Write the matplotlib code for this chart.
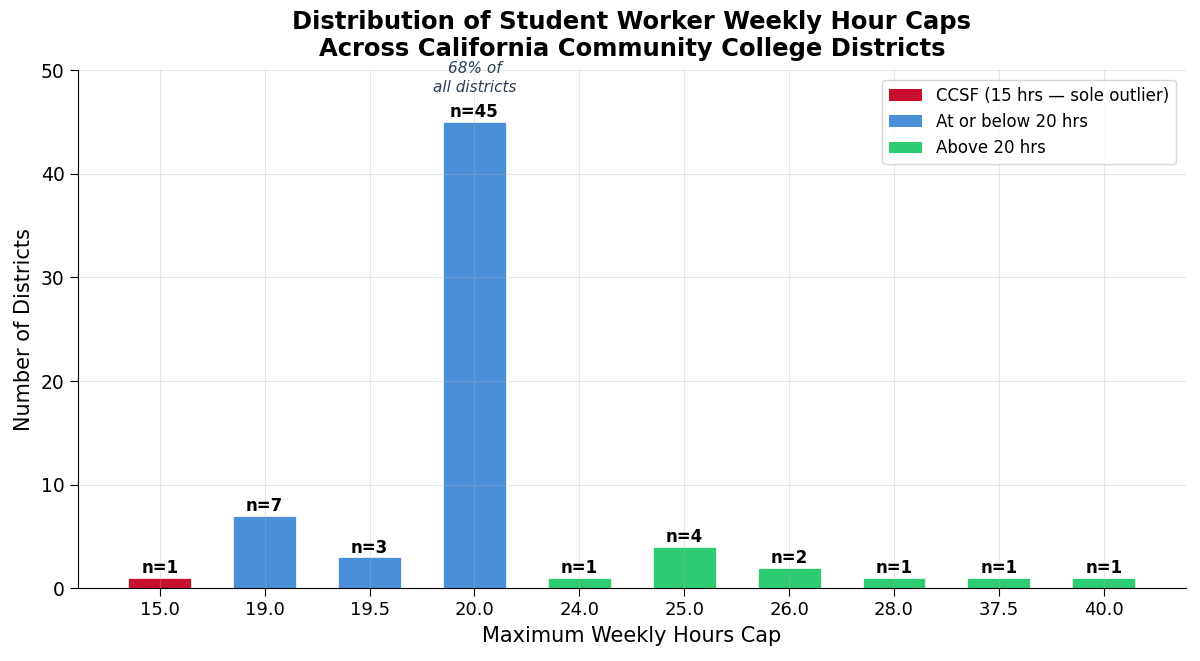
import matplotlib
matplotlib.use("Agg")
import matplotlib.pyplot as plt
from matplotlib.patches import Patch

caps = ["15.0", "19.0", "19.5", "20.0", "24.0", "25.0", "26.0", "28.0", "37.5", "40.0"]
counts = [1, 7, 3, 45, 1, 4, 2, 1, 1, 1]
groups = ["ccsf", "below", "below", "below", "above", "above", "above", "above", "above", "above"]
colors_map = {"ccsf": "#C8102E", "below": "#4A90D9", "above": "#2ECC71"}
legend_labels = ["CCSF (15 hrs — sole outlier)", "At or below 20 hrs", "Above 20 hrs"]

fig, ax = plt.subplots(figsize=(12, 6.61), dpi=100)
x = list(range(len(caps)))
bar_colors = [colors_map[g] for g in groups]
ax.bar(x, counts, width=0.6, color=bar_colors, edgecolor="white", linewidth=0.5, zorder=1)
ax.set_axisbelow(False)
ax.grid(True, alpha=0.3, zorder=2)

for xi, c in zip(x, counts):
    ax.text(xi, c + 0.05, f"n={c}", ha="center", va="bottom", fontsize=12, fontweight="bold")

ax.text(3, 47.6, "68% of\nall districts", ha="center", va="bottom", fontsize=11,
        style="italic", color="#2C3E50", linespacing=1.35)

ax.set_xticks(x)
ax.set_xticklabels(caps, fontsize=13)
ax.tick_params(axis="y", labelsize=13.5, length=6)
ax.tick_params(axis="x", length=6)
ax.set_ylim(0, 50)
ax.set_xlabel("Maximum Weekly Hours Cap", fontsize=15, labelpad=5)
ax.set_ylabel("Number of Districts", fontsize=15, labelpad=5)
ax.set_title("Distribution of Student Worker Weekly Hour Caps\nAcross California Community College Districts",
             fontsize=17.5, fontweight="bold", linespacing=1.15, pad=10)
ax.spines["top"].set_visible(False)
ax.spines["right"].set_visible(False)

handles = [Patch(facecolor=colors_map[k], label=l) for k, l in zip(["ccsf", "below", "above"], legend_labels)]
ax.legend(handles=handles, loc="upper right", fontsize=12, borderaxespad=0.6)

fig.subplots_adjust(left=0.065, right=0.988, top=0.894, bottom=0.11)
fig.savefig("out.png", dpi=100)
